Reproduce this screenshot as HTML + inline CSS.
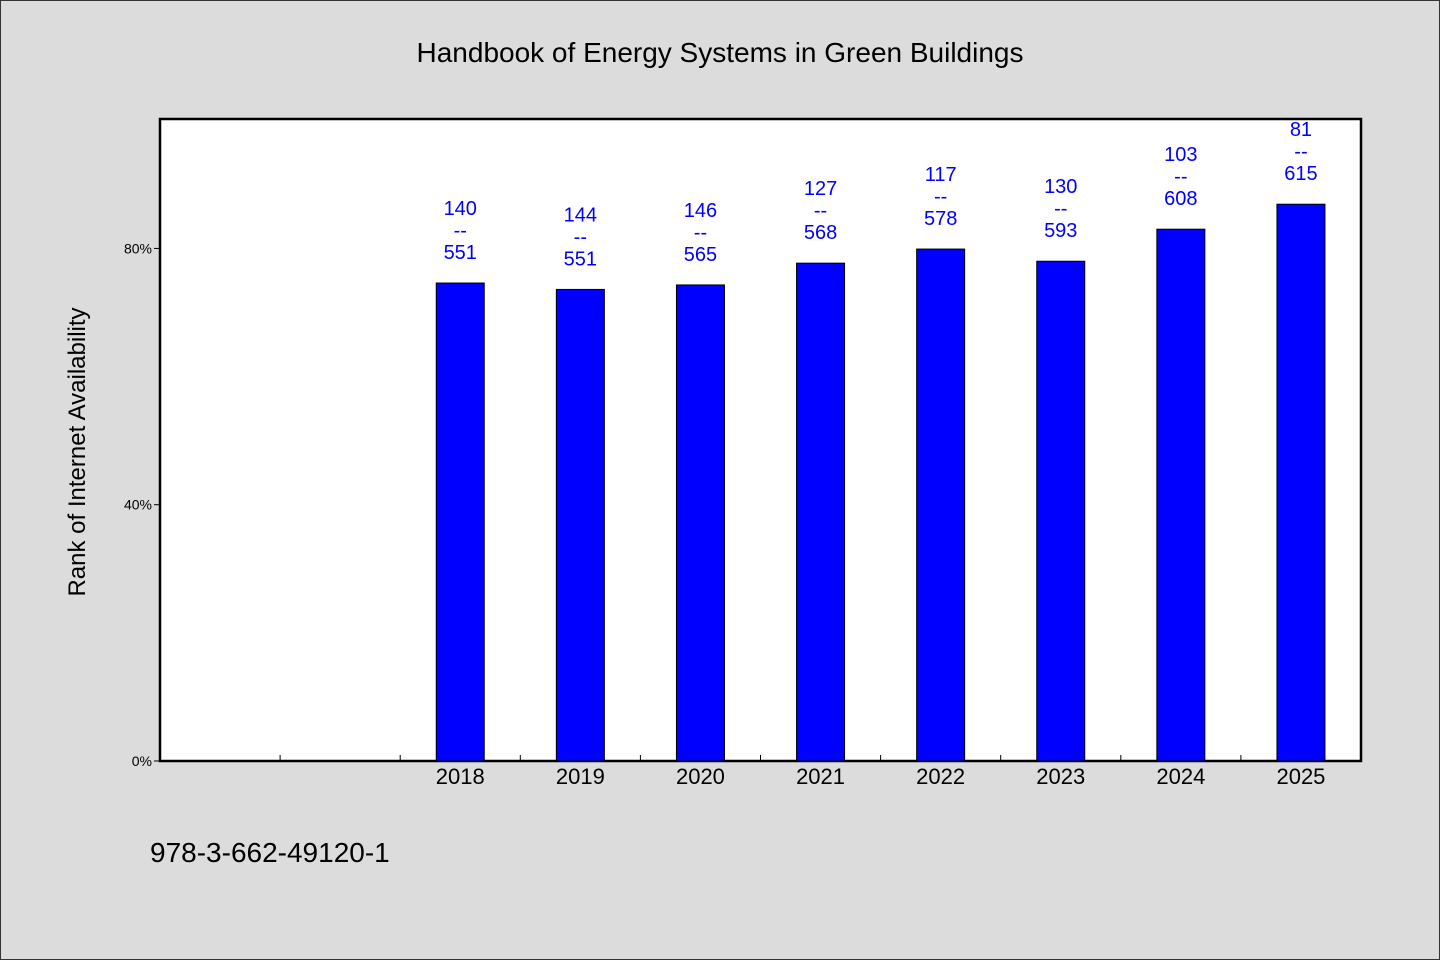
<!DOCTYPE html>
<html><head><meta charset="utf-8"><style>
html,body{margin:0;padding:0;}
body{width:1440px;height:960px;background:#dcdcdc;overflow:hidden;font-family:"WenQuanYi Zen Hei","Liberation Sans",sans-serif;}
#frame{position:absolute;left:0;top:0;width:1438px;height:958px;border:1px solid #333;}
</style></head><body>
<div id="frame"></div>
<svg id="chart" width="1440" height="960" style="position:absolute;left:0;top:0">
<text x="720" y="62" text-anchor="middle" font-size="28" fill="#000">Handbook of Energy Systems in Green Buildings</text>
<rect x="160" y="119" width="1201" height="642" fill="#fff" stroke="#000" stroke-width="2.5"/>
<text transform="translate(85,452) rotate(-90)" text-anchor="middle" font-size="24" fill="#000">Rank of Internet Availability</text>
<text x="150" y="862" font-size="28" fill="#000">978-3-662-49120-1</text>
<g id="bars"></g>
</svg>
<script>
const categories=["","","2018","2019","2020","2021","2022","2023","2024","2025"];
const values=[null,null,74.6,73.6,74.3,77.7,79.9,78.0,83.0,86.9];
const topLabels=["","","140","144","146","127","117","130","103","81"];
const bottomLabels=["","","551","551","565","568","578","593","608","615"];
const yTicks=[0,40,80];
const yTickLabels=["0%","40%","80%"];
const NS="http://www.w3.org/2000/svg";
const L=160,R=1361,T=119,B=761,YMAX=100.2;
const slot=(R-L)/categories.length;
const y=v=>B-(v/YMAX)*(B-T);
const x=i=>L+slot*(i+0.5);
const g=document.getElementById('bars');
function mk(tag,attrs,txt){const e=document.createElementNS(NS,tag);for(const k in attrs)e.setAttribute(k,attrs[k]);if(txt!==undefined)e.textContent=txt;g.appendChild(e);return e;}
yTicks.forEach((t,i)=>{
  const l=mk('line',{x1:L-6,x2:L,y1:y(t),y2:y(t),stroke:'#000'});
  
  
  const tx=mk('text',{x:L-8,y:y(t)+5,'text-anchor':'end','font-size':14,fill:'#000'},yTickLabels[i]);
  
  
});
categories.forEach((c,i)=>{
  if(i>0){const tk=mk('line',{x1:L+slot*i,x2:L+slot*i,y1:B,y2:B-6,stroke:'#000'});
  
  }
  if(values[i]==null)return;
  const cx=x(i),bw=48,top=y(values[i]);
  const r=mk('rect',{x:cx-bw/2,y:top,width:bw,height:B-top,fill:'#0000ff',stroke:'#000','stroke-width':1});
  
  
  const xl=mk('text',{x:cx,y:B+23,'text-anchor':'middle','font-size':22,fill:'#000'},c);
  
  
  const a=mk('text',{x:cx,y:top-68,'text-anchor':'middle','font-size':20,fill:'#0000ff'},topLabels[i]);
  
  
  const d=mk('text',{x:cx,y:top-46,'text-anchor':'middle','font-size':20,fill:'#0000ff'},'--');
  
  
  const b=mk('text',{x:cx,y:top-24,'text-anchor':'middle','font-size':20,fill:'#0000ff'},bottomLabels[i]);
  
  
});
</script>
</body></html>
